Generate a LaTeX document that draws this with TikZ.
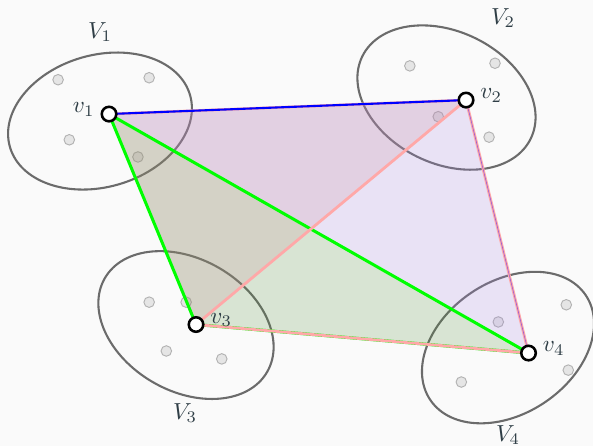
\documentclass[tikz,border=0pt]{standalone}
\usetikzlibrary{shapes.geometric}
\definecolor{bgcol}{RGB}{250,250,250}
\definecolor{txtcol}{RGB}{47,62,70}
\definecolor{lav}{RGB}{165,130,225}
\definecolor{moss}{RGB}{80,140,55}
\definecolor{rose}{RGB}{200,140,150}
\definecolor{edgepink}{RGB}{255,168,168}
\definecolor{edgeviolet}{RGB}{150,90,215}
\begin{document}
\begin{tikzpicture}[
  cluster/.style={ellipse, draw=black!58, line width=0.9pt, inner sep=0pt,
    minimum width=2.84cm, minimum height=2cm},
  dot/.style={fill=black!10, draw=black!30, line width=0.4pt},
  vertex/.style={circle, draw=black, fill=white, line width=1.1pt,
    inner sep=0pt, minimum size=0.22cm},
  lab/.style={text=txtcol},
  vlab/.style={text=txtcol, yshift=2pt, label distance=-1pt}]
  \fill[bgcol] (0,0) rectangle (8.985,6.758);
  \useasboundingbox (0,0) rectangle (8.985,6.758);

  \node[cluster, rotate=16] (V1) at (1.515,4.924) {};
  \node[cluster, rotate=-26] (V2) at (6.765,5.280) {};
  \node[cluster, rotate=-30] (V3) at (2.818,1.833) {};
  \node[cluster, rotate=34] (V4) at (7.697,1.492) {};
  \node[lab] (L1) at (1.515,6.273) {$V_1$};
  \node[lab] (L2) at (7.621,6.485) {$V_2$};
  \node[lab] (L3) at (2.803,0.500) {$V_3$};
  \node[lab] (L4) at (7.697,0.167) {$V_4$};

  \foreach \p in {(0.88,5.55),(2.26,5.58),(1.05,4.64),(2.09,4.38),
                  (6.21,5.76),(7.50,5.80),(6.64,4.99),(7.41,4.68),
                  (2.26,2.18),(2.82,2.18),(2.52,1.44),(3.36,1.32),
                  (7.55,1.88),(8.58,2.14),(6.99,0.97),(8.61,1.15)}
    \filldraw[dot] \p circle (0.08);

  \coordinate (v1) at (1.652,5.030);
  \coordinate (v2) at (7.061,5.242);
  \coordinate (v3) at (2.970,1.841);
  \coordinate (v4) at (8.008,1.409);

  \fill[lav, opacity=0.2] (v1) -- (v2) -- (v4) -- cycle;
  \fill[moss, opacity=0.2] (v1) -- (v3) -- (v4) -- cycle;
  \fill[rose, opacity=0.2] (v1) -- (v2) -- (v3) -- cycle;
  \draw[green, line width=1.3pt] (v1) -- (v3) (v1) -- (v4) (v3) -- (v4);
  \draw[edgepink, line width=1.2pt] (v1) -- (v2) (v2) -- (v3) (v2) -- (v4) (v3) -- (v4);
  \draw[blue, line width=0.9pt] (v1) -- (v2);
  \draw[edgeviolet, line width=0.25pt] (v2) -- (v4);

  \node[vertex, label={[vlab]left:$v_1$}] (n1) at (v1) {};
  \node[vertex, label={[vlab]right:$v_2$}] (n2) at (v2) {};
  \node[vertex, label={[vlab]right:$v_3$}] (n3) at (v3) {};
  \node[vertex, label={[vlab]right:$v_4$}] (n4) at (v4) {};
\end{tikzpicture}
\end{document}
